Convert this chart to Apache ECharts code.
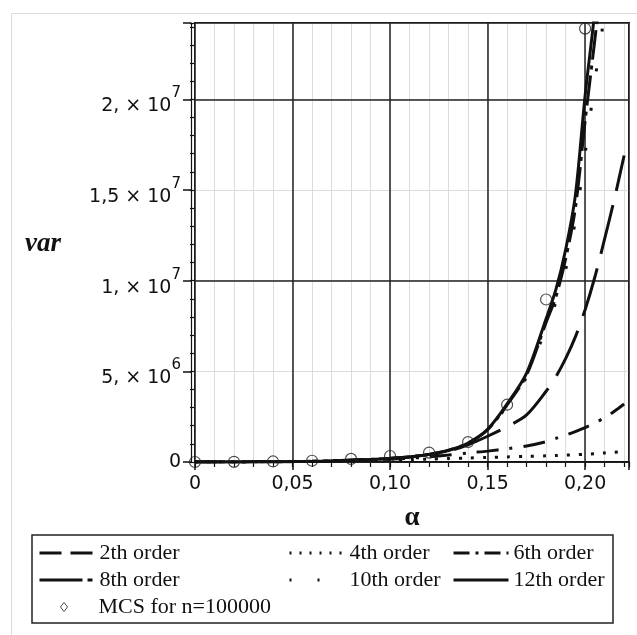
<!DOCTYPE html>
<html><head><meta charset="utf-8">
<script src="https://cdn.jsdelivr.net/npm/echarts@6/dist/echarts.min.js"></script>
<style>html,body{margin:0;padding:0;background:#fff}#c{width:637px;height:635px}</style>
</head><body><div id="c"></div>
<script>
// ---- data ----
const alpha  = [0,0.01,0.02,0.03,0.04,0.05,0.06,0.07,0.08,0.09,0.10,0.11,0.12,0.13,0.14,0.15,0.16,0.17,0.18,0.185,0.19,0.195,0.20,0.205,0.21,0.215,0.22];
const order2  = [0,1e3,3e3,7e3,1.3e4,2.2e4,3.6e4,6e4,1.0e5,1.4e5,2.0e5,2.8e5,4.1e5,6.0e5,9.5e5,1.42e6,1.95e6,2.6e6,3.9e6,4.7e6,5.7e6,6.9e6,8.4e6,10.2e6,12.3e6,14.5e6,16.9e6];
const order4  = [0,1e3,3e3,6e3,1.1e4,1.8e4,2.8e4,4.2e4,6e4,8e4,1.0e5,1.3e5,1.6e5,1.9e5,2.2e5,2.5e5,2.8e5,3.1e5,3.4e5,3.6e5,3.8e5,4.0e5,4.3e5,4.6e5,5.0e5,5.4e5,5.8e5];
const order6  = [0,1e3,3e3,7e3,1.3e4,2.2e4,3.6e4,5.8e4,9e4,1.2e5,1.6e5,2.1e5,2.8e5,3.8e5,5.0e5,6.0e5,7.3e5,8.8e5,1.12e6,1.3e6,1.48e6,1.68e6,1.9e6,2.15e6,2.45e6,2.8e6,3.2e6];
const order8  = [0,1e3,3e3,7e3,1.3e4,2.2e4,3.6e4,6e4,1.0e5,1.4e5,2.0e5,2.8e5,4.2e5,6.4e5,1.04e6,1.78e6,3.15e6,4.8e6,7.7e6,9.1e6,11.2e6,14.0e6,18.8e6,23.3e6,28e6,33e6,39e6];
const order10 = [0,1e3,3e3,7e3,1.3e4,2.2e4,3.6e4,6e4,1.0e5,1.4e5,2.0e5,2.8e5,4.1e5,6.3e5,1.02e6,1.75e6,3.1e6,4.7e6,7.4e6,8.8e6,10.6e6,13.3e6,17.0e6,21.0e6,24.8e6,29e6,34e6];
const order12 = [0,1e3,3e3,7e3,1.3e4,2.2e4,3.6e4,6e4,1.0e5,1.4e5,2.0e5,2.8e5,4.2e5,6.5e5,1.05e6,1.8e6,3.2e6,4.9e6,7.9e6,9.5e6,11.7e6,14.7e6,20.2e6,24.9e6,31e6,38e6,46e6];
const mcsAlpha = [0,0.02,0.04,0.06,0.08,0.10,0.12,0.14,0.16,0.18,0.20];
const mcsVar   = [0,1e4,3e4,7e4,1.7e5,3.3e5,5.2e5,1.1e6,3.16e6,8.96e6,23.9e6];
const lineNames = ['2th order','4th order','6th order','8th order','10th order','12th order'];
const mcsName = 'MCS for n=100000';
const xTickValues = [0,0.05,0.10,0.15,0.20];
const xTickLabels = ['0','0,05','0,10','0,15','0,20'];
const yTickValues = [0,5e6,1e7,1.5e7,2e7];
const yTickMant   = ['0','5,','1,','1,5','2,'];
const yTickExp    = ['','6','7','7','7'];
const X_MAX = 0.2225, Y_MAX = 2.4207e7;

// ---- styles ----
const INK = '#111';
const seriesDash = [[50,15],[3,9],[22,11,3,11],[30,6,4,6],[3,37],'solid'];
const legendDash = [[22,9],[2,8],[16,6,3,6],[43,5,5,10],[2,26],'solid'];
const lineData = [order2, order4, order6, order8, order10, order12];
const pairs = (xs, ys) => xs.map((x, i) => [x, ys[i]]);
const tickFont = {fontFamily: 'DejaVu Sans', fontSize: 19, color: INK};
const near = (a, b) => Math.abs(a - b) < 1e-9 * Math.max(1, Math.abs(b));

const series = lineNames.map((n, i) => ({
  name: n, type: 'line', xAxisIndex: 0, yAxisIndex: 0,
  data: pairs(alpha, lineData[i]), symbol: 'none', showSymbol: false, smooth: 0.3,
  color: INK, lineStyle: {color: INK, width: 3, type: seriesDash[i]},
  z: 3, animation: false, emphasis: {disabled: true}
}));
series.push({
  name: mcsName, type: 'scatter', xAxisIndex: 0, yAxisIndex: 0,
  data: pairs(mcsAlpha, mcsVar), symbol: 'circle', symbolSize: 11,
  color: 'rgba(0,0,0,0)',
  itemStyle: {color: 'rgba(0,0,0,0)', borderColor: '#222', borderWidth: 1.2},
  z: 5, animation: false, emphasis: {disabled: true}
});

const legCommon = {
  orient: 'vertical', padding: 0, itemWidth: 55, itemHeight: 14, itemGap: 5,
  selectedMode: false,
  textStyle: {fontFamily: 'Liberation Serif', fontSize: 22, lineHeight: 22, color: INK}
};
const legItem = i => ({name: lineNames[i],
  itemStyle: {color: 'rgba(0,0,0,0)', borderColor: 'rgba(0,0,0,0)', borderWidth: 0, opacity: 0},
  lineStyle: {type: legendDash[i], width: 3, color: INK, opacity: 1}});

const option = {
  animation: false,
  backgroundColor: '#fff',
  grid: {left: 195, top: 23, width: 434, height: 439, show: true, borderColor: INK, borderWidth: 2, outerBoundsMode: 'none'},
  xAxis: [
    {type: 'value', min: 0, max: X_MAX, interval: 0.05, position: 'bottom', z: 3,
     axisLine: {show: true, onZero: false, lineStyle: {color: INK, width: 1.5}},
     axisTick: {show: true, length: 8, lineStyle: {color: INK, width: 1.5}},
     axisLabel: Object.assign({margin: 13, formatter: v => {
        const k = xTickValues.findIndex(t => near(t, v)); return k < 0 ? '' : xTickLabels[k]; }}, tickFont),
     splitLine: {show: true, lineStyle: {color: '#222', width: 1.5}},
     name: 'α', nameLocation: 'middle', nameGap: 56,
     nameTextStyle: {fontFamily: 'Liberation Serif', fontWeight: 'bold', fontSize: 27, color: INK, verticalAlign: 'middle'}},
    {type: 'value', min: 0, max: X_MAX, interval: 0.01, position: 'bottom', z: 1,
     axisLine: {show: false}, axisTick: {show: true, length: 5, lineStyle: {color: INK, width: 1.2}},
     axisLabel: {show: false}, splitLine: {show: true, lineStyle: {color: '#dcdcdc', width: 1}}}
  ],
  yAxis: [
    {type: 'value', min: 0, max: Y_MAX, interval: 5e6, position: 'left', offset: 4, z: 2,
     axisLine: {show: true, onZero: false, lineStyle: {color: INK, width: 1.2}},
     axisTick: {show: true, length: 8, lineStyle: {color: INK, width: 1.5}},
     axisLabel: Object.assign({margin: 10, formatter: v => {
        const k = yTickValues.findIndex(t => near(t, v));
        if (k < 0) return '';
        if (!yTickExp[k]) return yTickMant[k];
        return '{m|' + yTickMant[k] + ' × 10}{s|' + yTickExp[k] + '}';
      },
      rich: {
        m: {fontFamily: 'DejaVu Sans', fontSize: 19, color: INK, padding: [14, 0, 0, 0]},
        s: {fontFamily: 'DejaVu Sans', fontSize: 15, color: INK, padding: [0, 0, 12, 0]}
      }}, tickFont),
     splitLine: {show: true, lineStyle: {color: '#dcdcdc', width: 1}}},
    {type: 'value', min: 0, max: Y_MAX, interval: 1e7, position: 'left', z: 3,
     axisLine: {show: false}, axisTick: {show: false}, axisLabel: {show: false},
     splitLine: {show: true, lineStyle: {color: '#222', width: 1.5}}},
    {type: 'value', min: 0, max: Y_MAX, interval: 1e6, position: 'left', offset: 4, z: 2,
     axisLine: {show: false}, axisTick: {show: true, length: 5, lineStyle: {color: INK, width: 1.2}},
     axisLabel: {show: false}, splitLine: {show: false}}
  ],
  legend: [
    Object.assign({}, legCommon, {left: 38, top: 542, data: [legItem(0), legItem(3)]}),
    Object.assign({}, legCommon, {left: 288, top: 542, data: [legItem(1), legItem(4)]}),
    Object.assign({}, legCommon, {left: 452, top: 542, data: [legItem(2), legItem(5)]}),
    Object.assign({}, legCommon, {left: 60, top: 596, itemWidth: 7, itemHeight: 9,
      textStyle: {fontFamily: 'Liberation Serif', fontSize: 22, lineHeight: 22, color: INK, padding: [0, 0, 0, 26]},
      data: [{name: mcsName, icon: 'diamond', itemStyle: {color: 'rgba(0,0,0,0)', borderColor: '#222', borderWidth: 1}}]})
  ],
  graphic: [
    {type: 'rect', silent: true, z: -10, shape: {x: 11.5, y: 13.5, width: 800, height: 800},
     style: {fill: 'none', stroke: '#dcdcdc', lineWidth: 1}},
    {type: 'rect', silent: true, shape: {x: 32, y: 535, width: 581, height: 88},
     style: {fill: 'none', stroke: '#222', lineWidth: 1.5}},
    {type: 'text', silent: true, x: 43, y: 244,
     style: {text: 'var', fontFamily: 'Liberation Serif', fontStyle: 'italic', fontWeight: 'bold', fontSize: 27,
             fill: INK, align: 'center', verticalAlign: 'middle'}}
  ],
  series: series
};
const chart = echarts.init(document.getElementById('c'), null, {renderer: 'canvas'});
chart.setOption(option);
</script></body></html>
